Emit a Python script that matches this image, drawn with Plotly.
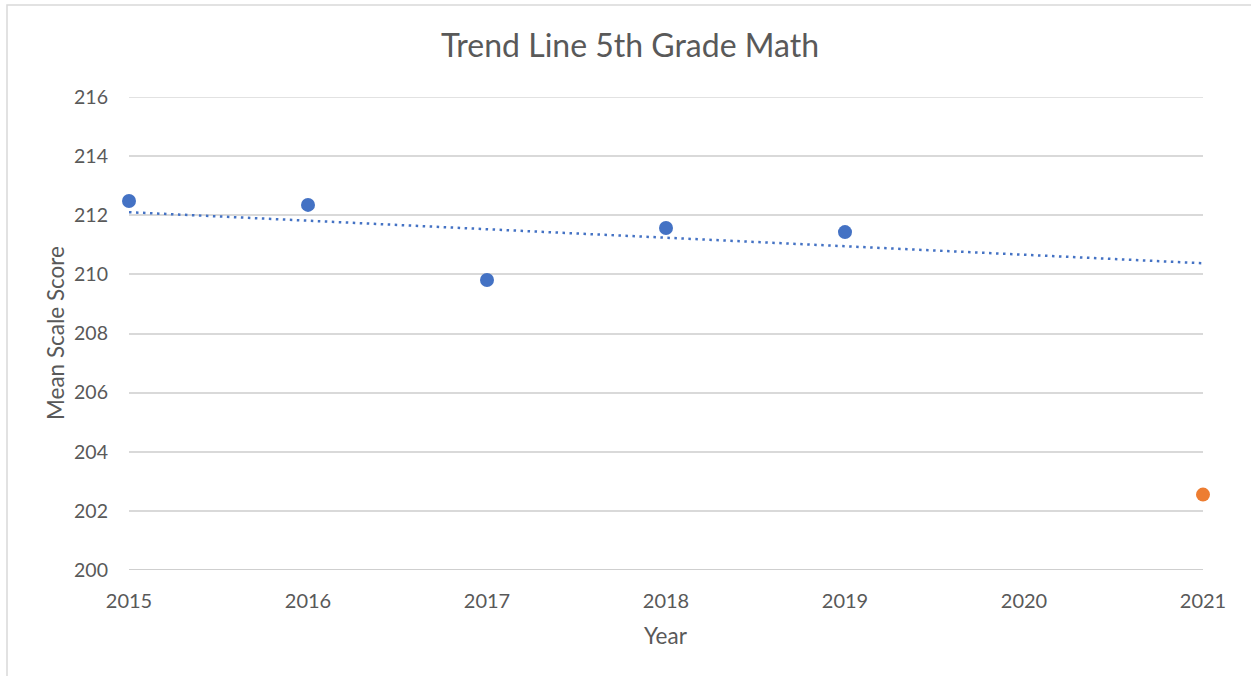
import numpy as np
import plotly.graph_objects as go

years = [2015, 2016, 2017, 2018, 2019]
scores = [212.48, 212.35, 209.81, 211.57, 211.43]
years_2021 = [2021]
scores_2021 = [202.55]
x_ticks = [2015, 2016, 2017, 2018, 2019, 2020, 2021]
y_ticks = [200, 202, 204, 206, 208, 210, 212, 214, 216]

slope, intercept = np.polyfit(years, scores, 1)
trend_x = [2015, 2021]
trend_y = [slope * x + intercept for x in trend_x]

W, H = 1251, 676
L, R, T, B = 129, 48, 97, 106
pw, ph = W - L - R, H - T - B

def px_to_paper_x(px):
    return (px - L) / pw

def px_to_paper_y(py):
    return (H - B - py) / ph

text_col = "#595959"
font_family = "Lato, 'Open Sans', sans-serif"

fig = go.Figure()
fig.add_trace(go.Scatter(
    x=trend_x, y=trend_y, mode="lines",
    line=dict(color="#4472C4", width=2.5, dash="2.5px,4.5px"),
    hoverinfo="skip", showlegend=False, cliponaxis=False))
fig.add_trace(go.Scatter(
    x=years, y=scores, mode="markers",
    marker=dict(color="#4472C4", size=14),
    showlegend=False, cliponaxis=False))
fig.add_trace(go.Scatter(
    x=years_2021, y=scores_2021, mode="markers",
    marker=dict(color="#ED7D31", size=14),
    showlegend=False, cliponaxis=False))

fig.update_layout(
    width=W, height=H,
    margin=dict(l=L, r=R, t=T, b=B),
    paper_bgcolor="white", plot_bgcolor="white",
    font=dict(family=font_family, color=text_col),
    title=dict(text="Trend Line 5th Grade Math", x=630 / W, y=1 - 46 / H,
               xanchor="center", yanchor="middle",
               font=dict(size=32, color=text_col, family=font_family)),
    xaxis=dict(range=[2015, 2021], tickvals=x_ticks, ticktext=[str(v) for v in x_ticks],
               showgrid=False, zeroline=False, showline=False, ticks="",
               tickfont=dict(size=20, color=text_col), ticklabelstandoff=17),
    yaxis=dict(range=[200, 216], tickvals=y_ticks, showgrid=True, gridcolor="#D9D9D9",
               gridwidth=1.5, zeroline=False, showline=False, ticks="",
               tickfont=dict(size=19.5, color=text_col), ticklabelstandoff=20),
    annotations=[
        dict(text="Mean Scale Score", xref="paper", yref="paper",
             x=px_to_paper_x(55), y=px_to_paper_y(333), textangle=-90,
             xanchor="center", yanchor="middle", showarrow=False,
             font=dict(size=22.5, color=text_col)),
        dict(text="Year", xref="paper", yref="paper",
             x=px_to_paper_x(666), y=px_to_paper_y(635),
             xanchor="center", yanchor="middle", showarrow=False,
             font=dict(size=22.5, color=text_col)),
    ],
    shapes=[
        dict(type="line", xref="paper", yref="y", x0=0, x1=1, y0=216, y1=216,
             line=dict(color="#D9D9D9", width=1.5), layer="below"),
        dict(type="line", xref="paper", yref="y", x0=0, x1=1, y0=200, y1=200,
             line=dict(color="#BFBFBF", width=1.5), layer="below"),
        dict(type="rect", xref="paper", yref="paper",
             x0=px_to_paper_x(7), x1=px_to_paper_x(1270),
             y0=px_to_paper_y(700), y1=px_to_paper_y(5),
             line=dict(color="#D9D9D9", width=1.5), fillcolor="rgba(0,0,0,0)"),
    ],
)

fig.write_html("out.html", config={"displayModeBar": False},
               post_script="document.body.style.margin='0';")
